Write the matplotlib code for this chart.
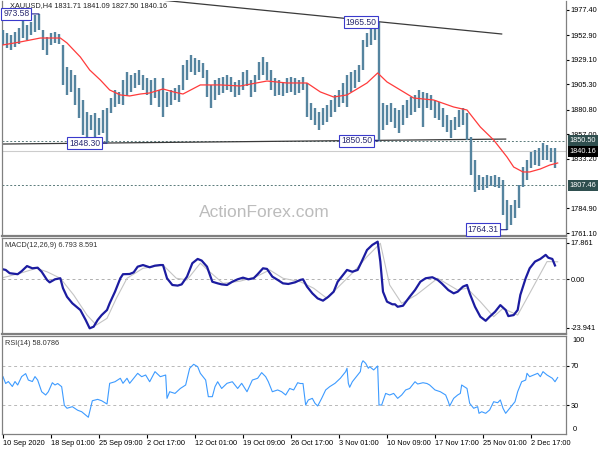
import matplotlib
matplotlib.use('Agg')  # Non-interactive backend
import matplotlib.pyplot as plt
import matplotlib.transforms as mtransforms

plt.rcParams['font.family'] = ['Liberation Sans', 'DejaVu Sans']

# ---- price data: one entry every 3rd H4 bar, bar index = 3 * i ----
bar_step = 3
highs = [1958.0, 1955.1, 1953.1, 1956.1, 1959.9, 1967.7, 1962.9, 1965.8, 1972.5, 1973.58,
         1958.0, 1951.2, 1955.1, 1956.1, 1954.1, 1943.5, 1922.1, 1919.2, 1914.4, 1901.7,
         1890.1, 1878.5, 1875.6, 1877.5, 1872.6, 1880.4, 1882.3, 1892.0, 1899.8, 1897.9,
         1909.5, 1917.3, 1914.4, 1916.3, 1919.2, 1914.4, 1911.4, 1909.5, 1911.4, 1899.8,
         1911.4, 1897.9, 1899.8, 1901.7, 1904.7, 1924.0, 1928.9, 1933.7, 1930.8, 1928.9,
         1926.0, 1919.2, 1904.7, 1909.5, 1911.4, 1912.4, 1914.4, 1912.4, 1907.6, 1909.5,
         1917.3, 1919.2, 1909.5, 1914.4, 1927.0, 1931.8, 1927.0, 1919.2, 1911.4, 1909.5,
         1907.6, 1911.4, 1912.4, 1911.4, 1909.5, 1912.4, 1906.6, 1887.2, 1882.3, 1878.5,
         1882.3, 1885.2, 1890.1, 1895.0, 1899.8, 1906.6, 1914.4, 1917.3, 1919.2, 1924.0,
         1948.3, 1955.1, 1960.9, 1963.8, 1965.5, 1887.2, 1885.2, 1887.2, 1882.3, 1880.4,
         1885.2, 1890.1, 1893.0, 1895.0, 1899.8, 1897.9, 1896.9, 1895.0, 1890.1, 1888.2,
         1882.3, 1875.6, 1870.7, 1873.6, 1880.4, 1882.3, 1877.5, 1854.2, 1831.9, 1817.4,
         1815.4, 1817.4, 1816.4, 1817.4, 1815.4, 1812.5, 1793.1, 1788.3, 1793.1, 1807.7,
         1825.1, 1831.9, 1839.7, 1841.6, 1843.5, 1848.4, 1846.5, 1843.5, 1843.5]
lows = [1943.5, 1940.5, 1938.6, 1941.5, 1944.4, 1950.2, 1948.3, 1953.1, 1956.1, 1958.0,
        1938.6, 1933.7, 1943.5, 1945.4, 1944.4, 1904.7, 1895.0, 1897.9, 1885.2, 1872.6,
        1856.2, 1854.2, 1861.0, 1854.2, 1856.2, 1858.1, 1848.30, 1877.5, 1883.3, 1886.2,
        1885.2, 1894.0, 1897.9, 1901.7, 1904.7, 1899.8, 1895.0, 1885.2, 1892.0, 1883.3,
        1873.6, 1883.3, 1885.2, 1890.1, 1888.2, 1899.8, 1909.5, 1917.3, 1914.4, 1917.3,
        1911.4, 1893.0, 1882.3, 1890.1, 1895.0, 1896.9, 1899.8, 1897.9, 1893.0, 1895.0,
        1899.8, 1903.7, 1893.0, 1897.9, 1909.5, 1914.4, 1909.5, 1899.8, 1894.0, 1895.0,
        1894.0, 1896.9, 1897.9, 1895.0, 1896.9, 1899.8, 1873.6, 1870.7, 1865.8, 1861.0,
        1865.8, 1868.8, 1873.6, 1878.5, 1883.3, 1887.2, 1883.3, 1897.9, 1901.7, 1907.6,
        1919.2, 1941.5, 1943.5, 1948.3, 1850.5, 1861.0, 1865.8, 1868.8, 1862.9, 1858.1,
        1865.8, 1872.6, 1875.6, 1878.5, 1882.3, 1863.9, 1882.3, 1880.4, 1872.6, 1870.7,
        1863.9, 1859.1, 1853.2, 1861.0, 1863.9, 1865.8, 1851.3, 1817.4, 1800.9, 1802.8,
        1802.8, 1804.7, 1806.7, 1805.7, 1804.7, 1778.6, 1764.31, 1768.9, 1775.6, 1785.3,
        1805.7, 1812.5, 1824.1, 1827.0, 1826.1, 1831.9, 1831.9, 1829.9, 1824.1]

# moving average (red line)
ma_bar = [0, 13, 28, 43, 48, 58, 65, 73, 80, 88, 95, 103, 110, 120, 128, 135, 148, 163, 178,
          198, 213, 228, 238, 248, 258, 268, 273, 281, 288, 298, 308, 323, 338, 348, 358, 368,
          378, 383, 390, 395, 403, 410, 416]
ma_val = [1943.5, 1946.4, 1950.2, 1950.2, 1945.4, 1931.8, 1919.2, 1909.5, 1899.8, 1895.0,
          1894.0, 1895.9, 1896.9, 1900.8, 1897.9, 1895.9, 1904.7, 1904.7, 1903.7, 1908.5,
          1906.6, 1906.6, 1897.9, 1893.0, 1895.0, 1902.7, 1906.6, 1916.3, 1907.6, 1899.8,
          1892.0, 1890.1, 1883.3, 1880.4, 1863.9, 1851.3, 1834.8, 1825.1, 1820.3, 1820.3,
          1823.2, 1827.0, 1829.0]

# MACD main and signal
macd_bar = [0, 2, 5, 11, 14, 18, 22, 26, 29, 33, 35, 39, 43, 45, 48, 52, 58, 62, 65, 68, 71,
            74, 78, 80, 84, 88, 90, 95, 98, 101, 105, 110, 114, 118, 120, 123, 127, 131, 134,
            138, 142, 146, 149, 153, 157, 161, 164, 168, 172, 176, 180, 184, 188, 191, 195,
            198, 202, 206, 210, 214, 219, 223, 225, 228, 232, 236, 240, 244, 248, 251, 255,
            258, 262, 266, 269, 273, 277, 281, 283, 285, 288, 292, 294, 296, 300, 305, 309,
            313, 317, 322, 326, 329, 334, 338, 341, 345, 348, 350, 354, 358, 362, 365, 369,
            373, 377, 379, 383, 386, 388, 392, 395, 399, 403, 407, 409, 412, 414]
macd_val = [4.9, 4.6, 3.0, 2.5, 4.0, 6.5, 5.4, 5.7, 3.7, -0.3, -1.5, 0.0, 0.5, -4.4, -8.6,
            -11.8, -15.1, -20.0, -24.1, -23.3, -20.0, -17.6, -15.1, -11.8, -6.1, 0.5, 2.5,
            2.6, 3.4, 6.2, 7.0, 5.9, 6.7, 7.0, 7.0, 0.5, -2.8, -3.1, -2.5, 1.3, 7.9, 10.0,
            9.2, 6.2, -1.2, -2.0, -2.5, -2.8, -1.2, 0.0, 0.8, 0.0, 0.5, 2.5, 5.4, 5.1, 1.3,
            -0.3, -2.0, -2.3, -1.5, -0.3, 0.0, -3.6, -6.9, -9.4, -10.5, -8.6, -6.1, -1.2,
            2.1, 4.6, 3.7, 4.6, 8.7, 14.4, 16.9, 18.5, 8.7, -6.1, -11.0, -12.3, -12.3,
            -13.5, -13.0, -8.6, -5.3, -1.2, 0.5, 1.0, -0.3, -2.0, -5.3, -6.9, -6.1, -3.6,
            -2.8, -6.9, -13.5, -18.4, -20.4, -18.4, -16.0, -12.7, -15.1, -18.1, -17.6,
            -15.1, -7.7, 0.5, 5.4, 8.7, 10.0, 12.0, 10.6, 10.0, 6.8]
sig_bar = [0, 13, 25, 33, 43, 53, 63, 70, 78, 85, 93, 105, 120, 130, 138, 148, 155, 165,
           178, 190, 200, 210, 223, 233, 243, 253, 263, 273, 283, 290, 299, 310, 326, 341,
           348, 358, 368, 375, 386, 395, 408, 416]
sig_val = [0.8, 3.0, 5.4, 3.7, 0.5, -7.7, -17.6, -22.5, -19.2, -9.4, 0.5, 5.4, 7.0, 0.5,
           -0.3, 7.9, 3.7, -2.0, -0.9, 1.3, 4.6, 0.5, -1.2, -4.4, -9.4, -2.8, 3.7, 11.1,
           17.7, -2.8, -11.8, -7.7, 0.5, -5.3, -4.4, -11.0, -18.4, -14.3, -17.6, -6.9, 8.7,
           8.6]
macd_ticks = [17.861, 0.0, -23.941]

# RSI(14)
rsi_bar = [0, 2, 4, 7, 9, 11, 14, 17, 19, 22, 24, 26, 29, 32, 34, 37, 39, 41, 44, 46, 48,
           52, 56, 59, 62, 64, 67, 71, 74, 78, 80, 84, 88, 90, 93, 95, 98, 101, 104, 107,
           110, 114, 118, 122, 123, 125, 129, 133, 137, 140, 143, 146, 148, 152, 154, 157,
           159, 161, 164, 168, 172, 176, 179, 183, 187, 191, 194, 197, 199, 202, 206, 209,
           212, 215, 218, 221, 223, 225, 227, 229, 232, 234, 236, 239, 242, 245, 249, 253,
           257, 258, 259, 260, 262, 266, 268, 269, 270, 272, 274, 275, 278, 281, 282, 284,
           287, 290, 293, 296, 299, 302, 305, 309, 311, 315, 318, 320, 324, 328, 332, 334,
           335, 338, 341, 343, 344, 348, 350, 353, 356, 357, 359, 362, 365, 368, 371, 373,
           375, 377, 379, 382, 384, 386, 389, 392, 393, 395, 398, 401, 403, 405, 408, 410,
           412, 414, 416]
rsi_val = [58.9, 52.0, 54.0, 49.0, 54.0, 50.5, 59.0, 62.0, 55.5, 54.0, 59.0, 55.5, 43.7,
           40.4, 43.7, 52.8, 50.5, 52.0, 48.8, 30.0, 27.0, 28.6, 25.0, 23.5, 20.2, 17.9,
           34.6, 36.0, 34.6, 31.3, 52.2, 53.8, 57.3, 52.2, 57.3, 52.2, 57.3, 62.3, 58.9,
           60.6, 53.8, 64.0, 58.9, 60.6, 37.0, 43.7, 42.0, 47.0, 50.5, 67.4, 71.4, 69.0,
           62.3, 55.5, 38.7, 38.7, 48.8, 53.8, 47.0, 52.2, 53.8, 47.0, 52.2, 43.7, 55.5,
           57.3, 63.0, 58.9, 53.8, 43.7, 45.5, 43.7, 40.4, 47.0, 45.5, 52.8, 52.0, 52.0,
           30.3, 35.4, 37.0, 32.0, 29.3, 37.0, 45.5, 48.8, 52.2, 57.3, 64.0, 67.4, 52.2,
           48.2, 53.8, 60.6, 64.0, 72.4, 75.0, 72.4, 67.4, 69.0, 65.7, 69.7, 30.3, 30.3,
           42.0, 40.4, 42.0, 37.0, 40.4, 45.5, 47.0, 53.8, 51.5, 52.8, 52.0, 50.5, 45.5,
           43.7, 40.4, 33.6, 29.3, 37.0, 40.4, 42.0, 50.5, 47.0, 32.0, 27.0, 28.6, 21.9,
           23.5, 21.9, 25.3, 33.6, 32.6, 35.4, 27.0, 21.9, 25.3, 30.3, 33.6, 43.7, 53.8,
           55.5, 62.3, 58.9, 60.6, 62.3, 58.9, 64.0, 60.6, 58.9, 57.3, 53.8, 58.08]

# axis labels
price_ticks = [1977.40, 1952.90, 1929.10, 1905.30, 1880.80, 1857.00, 1833.20, 1784.90, 1761.10]
date_ticks = [0, 36, 72, 108, 144, 180, 216, 252, 288, 324, 360, 396]
date_labels = ['10 Sep 2020', '18 Sep 01:00', '25 Sep 09:00', '2 Oct 17:00', '12 Oct 01:00',
               '19 Oct 09:00', '26 Oct 17:00', '3 Nov 01:00', '10 Nov 09:00', '17 Nov 17:00',
               '25 Nov 01:00', '2 Dec 17:00']

# price levels and drawn lines
level_hi, level_last, level_lo = 1850.50, 1840.16, 1807.46
support_bar, support_val = [0, 377], [1847.4, 1852.2]
resist_bar, resist_val = [118, 374], [1987.1, 1954.1]
# (label as shown, bar, price, offset pts) - first one is cut at the chart's left edge
marks = [('973.58', 27, 1973.58, 7), ('1848.30', 78, 1848.30, 5),
         ('1965.50', 282, 1965.50, 2), ('1850.50', 282, 1850.50, 5),
         ('1764.31', 378, 1764.31, 6)]

# ---- figure ----
W, H = 600, 450
FS = 5.3
fig = plt.figure(figsize=(W / 100, H / 100), dpi=100)


def px_axes(x0, y0, x1, y1):
    return fig.add_axes([x0 / W, 1 - y1 / H, (x1 - x0) / W, (y1 - y0) / H])


ax = px_axes(2, 1, 566, 236)
ax_macd = px_axes(2, 238, 566, 334)
ax_rsi = px_axes(2, 336, 566, 434)

for a in (ax, ax_macd, ax_rsi):
    a.set_xlim(-0.75, 422.25)
    a.yaxis.tick_right()
    a.tick_params(axis='y', labelsize=FS, length=2, pad=1.5, colors='black')
    for s in a.spines.values():
        s.set_color('#808080')
        s.set_linewidth(0.9)
    a.spines['top'].set_visible(False)
ax_macd.spines['top'].set_visible(True)
ax_rsi.spines['top'].set_visible(True)
ax.spines['bottom'].set_linewidth(1.6)
ax_macd.spines['bottom'].set_linewidth(1.6)
ax.set_xticks([])
ax_macd.set_xticks([])

# main panel
bars = [bar_step * i for i in range(len(highs))]
ax.vlines(bars, lows, highs, color='#55849f', lw=1.7, zorder=3)
ax.plot(ma_bar, ma_val, color='#ff3b3b', lw=0.9, zorder=4)
ax.set_ylim(1758.2, 1986.1)
ax.set_yticks(price_ticks)
ax.set_yticklabels([f'{v:.2f}' for v in price_ticks])

dash = (0, (2, 2))
ax.axhline(level_hi, color='#5a7a7a', lw=0.7, ls=dash, zorder=2)
ax.axhline(level_lo, color='#5a7a7a', lw=0.7, ls=dash, zorder=2)
ax.axhline(level_last, color='#cccccc', lw=0.8, zorder=1)
ax.plot(support_bar, support_val, color='#3a3a3a', lw=0.9, zorder=2)
ax.plot(resist_bar, resist_val, color='#3a3a3a', lw=0.9, zorder=2)

trans = mtransforms.blended_transform_factory(ax.transAxes, ax.transData)
for val, fc in [(level_hi, '#2f4f4f'), (level_lo, '#2f4f4f'), (level_last, 'black')]:
    ax.text(1.006, val, f'{val:.2f}', transform=trans, ha='left', va='center', color='white',
            fontsize=FS, bbox=dict(boxstyle='square,pad=0.25', fc=fc, ec='none'),
            clip_on=False, zorder=6)

for label, b, p, off in marks:
    ax.annotate(label, xy=(b, p), xytext=(-off, 0), textcoords='offset points',
                ha='right', va='center', fontsize=6.2, color='#2a2a70',
                bbox=dict(boxstyle='square,pad=0.2', fc='white', ec='#3a3acc', lw=0.8),
                arrowprops=dict(arrowstyle='-', color='#20208a', lw=0.8, shrinkA=0, shrinkB=0),
                zorder=5)

ax.text(0.014, 0.995, 'XAUUSD,H4 1831.71 1841.09 1827.50 1840.16', transform=ax.transAxes,
        ha='left', va='top', fontsize=FS, color='#222222', zorder=6)
ax.text(0.466, 0.10, 'ActionForex.com', transform=ax.transAxes, ha='center', va='center',
        fontsize=12.5, color='#bcbcbc', zorder=0)

# MACD panel
ax_macd.axhline(0, color='#b0b0b0', lw=0.7, ls=(0, (3, 3)))
ax_macd.plot(sig_bar, sig_val, color='#c4c4c4', lw=0.8)
ax_macd.plot(macd_bar, macd_val, color='#1c1ca0', lw=1.6)
ax_macd.set_ylim(-26.9, 20.3)
ax_macd.set_yticks(macd_ticks)
ax_macd.set_yticklabels(['17.861', '0.00', '-23.941'])
ax_macd.text(0.006, 0.96, 'MACD(12,26,9) 6.793 8.591', transform=ax_macd.transAxes,
             ha='left', va='top', fontsize=FS, color='#333333')

# RSI panel
ax_rsi.axhline(70, color='#b8b8b8', lw=0.7, ls=(0, (3, 3)))
ax_rsi.axhline(30, color='#b8b8b8', lw=0.7, ls=(0, (3, 3)))
ax_rsi.plot(rsi_bar, rsi_val, color='#3d9bff', lw=0.8)
ax_rsi.set_ylim(1, 100)
ax_rsi.set_yticks([70, 30])
rtrans = mtransforms.blended_transform_factory(ax_rsi.transAxes, ax_rsi.transData)
ax_rsi.text(1.012, 99, '100', transform=rtrans, ha='left', va='top', fontsize=FS, clip_on=False)
ax_rsi.text(1.012, 2, '0', transform=rtrans, ha='left', va='bottom', fontsize=FS, clip_on=False)
ax_rsi.text(0.006, 0.96, 'RSI(14) 58.0786', transform=ax_rsi.transAxes,
            ha='left', va='top', fontsize=FS, color='#333333')
ax_rsi.set_xticks(date_ticks)
ax_rsi.set_xticklabels(date_labels)
ax_rsi.tick_params(axis='x', labelsize=FS, length=3, pad=1.5, direction='out', colors='black')
for lbl in ax_rsi.get_xticklabels():
    lbl.set_horizontalalignment('left')

fig.savefig('out.png', dpi=100, facecolor='white')
